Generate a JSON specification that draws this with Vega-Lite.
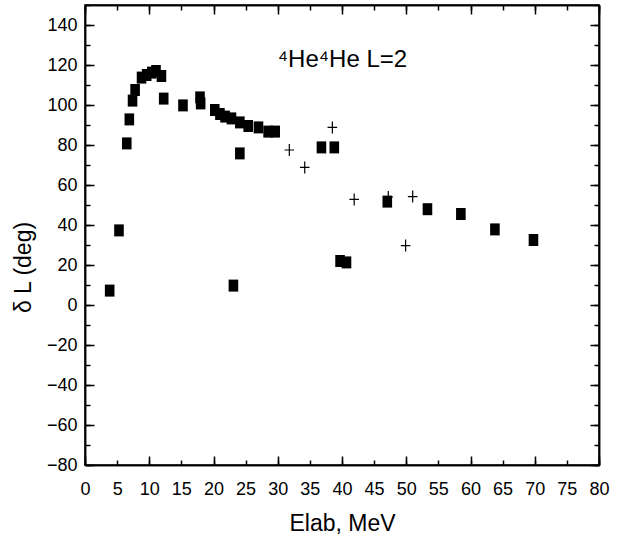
{
  "$schema": "https://vega.github.io/schema/vega-lite/v6.json",
  "width": 514,
  "height": 460,
  "autosize": {"type": "none"},
  "padding": {"left": 85, "top": 5, "right": 24, "bottom": 87},
  "background": "white",
  "config": {
    "view": {"stroke": "black", "strokeWidth": 1.5},
    "font": "Liberation Sans",
    "axis": {
      "grid": false,
      "domainColor": "black",
      "domainWidth": 1.5,
      "tickColor": "black",
      "tickWidth": 1.5,
      "labelColor": "black",
      "labelFont": "Liberation Sans",
      "labelFontSize": 18,
      "labelFlush": false,
      "labelOverlap": false,
      "titleFont": "Liberation Sans",
      "titleFontSize": 23,
      "titleFontWeight": "normal",
      "titleColor": "black"
    }
  },
  "datasets": {
    "pts": [
      {"E": 3.84, "d": 7.2, "kind": "square"},
      {"E": 5.29, "d": 37.3, "kind": "square"},
      {"E": 6.5, "d": 80.8, "kind": "square"},
      {"E": 6.9, "d": 92.8, "kind": "square"},
      {"E": 7.4, "d": 102.2, "kind": "square"},
      {"E": 7.8, "d": 107.5, "kind": "square"},
      {"E": 8.8, "d": 113.7, "kind": "square"},
      {"E": 9.6, "d": 115.0, "kind": "square"},
      {"E": 10.4, "d": 116.2, "kind": "square"},
      {"E": 11.05, "d": 117.0, "kind": "square"},
      {"E": 11.9, "d": 114.5, "kind": "square"},
      {"E": 12.25, "d": 103.2, "kind": "square"},
      {"E": 15.25, "d": 99.8, "kind": "square"},
      {"E": 17.9, "d": 103.8, "kind": "square"},
      {"E": 18.0, "d": 100.8, "kind": "square"},
      {"E": 20.2, "d": 97.5, "kind": "square"},
      {"E": 21.0, "d": 95.5, "kind": "square"},
      {"E": 21.8, "d": 94.2, "kind": "square"},
      {"E": 22.8, "d": 93.3, "kind": "square"},
      {"E": 23.1, "d": 9.7, "kind": "square"},
      {"E": 24.1, "d": 91.3, "kind": "square"},
      {"E": 24.1, "d": 75.8, "kind": "square"},
      {"E": 25.4, "d": 89.5, "kind": "square"},
      {"E": 27.0, "d": 88.8, "kind": "square"},
      {"E": 28.5, "d": 86.7, "kind": "square"},
      {"E": 29.6, "d": 86.7, "kind": "square"},
      {"E": 36.8, "d": 78.8, "kind": "square"},
      {"E": 38.8, "d": 78.8, "kind": "square"},
      {"E": 39.7, "d": 22.0, "kind": "square"},
      {"E": 40.7, "d": 21.3, "kind": "square"},
      {"E": 47.05, "d": 51.7, "kind": "square"},
      {"E": 53.3, "d": 47.9, "kind": "square"},
      {"E": 58.5, "d": 45.5, "kind": "square"},
      {"E": 63.8, "d": 37.8, "kind": "square"},
      {"E": 69.8, "d": 32.5, "kind": "square"},
      {"E": 31.8, "d": 77.5, "kind": "cross"},
      {"E": 34.2, "d": 68.8, "kind": "cross"},
      {"E": 38.5, "d": 88.8, "kind": "cross"},
      {"E": 41.9, "d": 52.8, "kind": "cross"},
      {"E": 47.2, "d": 54.0, "kind": "cross"},
      {"E": 49.9, "d": 29.7, "kind": "cross"},
      {"E": 51.0, "d": 54.2, "kind": "cross"}
    ]
  },
  "layer": [
    {
      "data": {"name": "pts"},
      "transform": [{"filter": "datum.kind === 'square'"}],
      "mark": {"type": "point", "shape": "M-0.8,-1H0.8V1H-0.8Z", "filled": true, "color": "black", "opacity": 1, "size": 144, "strokeWidth": 0},
      "encoding": {
        "x": {"field": "E", "type": "quantitative", "scale": {"domain": [0, 80], "nice": false, "zero": false},
          "axis": {"orient": "bottom", "values": [0,5,10,15,20,25,30,35,40,45,50,55,60,65,70,75,80],
            "tickSize": -5, "labelPadding": 20, "title": "Elab, MeV", "titlePadding": 14}},
        "y": {"field": "d", "type": "quantitative", "scale": {"domain": [-80, 150], "nice": false, "zero": false},
          "axis": {"orient": "left", "values": [-80,-70,-60,-50,-40,-30,-20,-10,0,10,20,30,40,50,60,70,80,90,100,110,120,130,140,150],
            "tickSize": -5,
            "labelExpr": "(datum.value % 20 === 0 && datum.value <= 140) ? datum.label : ''",
            "labelPadding": 13, "title": "δ L (deg)", "titleX": -62, "titleY": 262, "titleAngle": -90, "titleAlign": "center", "titleBaseline": "middle"}}
      }
    },
    {
      "data": {"name": "pts"},
      "transform": [{"filter": "datum.kind === 'cross'"}],
      "mark": {"type": "point", "shape": "M-0.8,0H0.8M0,-1V1", "filled": false, "color": "black", "opacity": 1, "size": 144, "strokeWidth": 1.2},
      "encoding": {
        "x": {"field": "E", "type": "quantitative",
          "axis": {"orient": "bottom", "values": [0,10,20,30,40,50,60,70,80], "tickSize": -9, "labels": false, "title": null}},
        "y": {"field": "d", "type": "quantitative",
          "axis": {"orient": "left", "values": [-80,-60,-40,-20,0,20,40,60,80,100,120,140], "tickSize": -9, "labels": false, "title": null}}
      }
    },
    {
      "data": {"name": "pts"},
      "transform": [{"filter": "datum.kind === 'cross'"}],
      "mark": {"type": "point", "opacity": 0},
      "encoding": {
        "x": {"field": "E", "type": "quantitative",
          "axis": {"orient": "top", "values": [0,5,10,15,20,25,30,35,40,45,50,55,60,65,70,75,80], "tickSize": -5, "labels": false, "title": null}},
        "y": {"field": "d", "type": "quantitative",
          "axis": {"orient": "right", "values": [-80,-70,-60,-50,-40,-30,-20,-10,0,10,20,30,40,50,60,70,80,90,100,110,120,130,140,150], "tickSize": -5, "labels": false, "title": null}}
      }
    },
    {
      "data": {"name": "pts"},
      "transform": [{"filter": "datum.kind === 'cross'"}],
      "mark": {"type": "point", "opacity": 0},
      "encoding": {
        "x": {"field": "E", "type": "quantitative",
          "axis": {"orient": "top", "values": [0,10,20,30,40,50,60,70,80], "tickSize": -9, "labels": false, "title": null}},
        "y": {"field": "d", "type": "quantitative",
          "axis": {"orient": "right", "values": [-80,-60,-40,-20,0,20,40,60,80,100,120,140], "tickSize": -9, "labels": false, "title": null}}
      }
    },
    {
      "data": {"values": [{"label": "⁴He⁴He L=2"}]},
      "mark": {"type": "text", "align": "left", "baseline": "alphabetic", "font": "Liberation Sans", "fontSize": 24, "color": "black"},
      "encoding": {
        "text": {"field": "label", "type": "nominal"},
        "x": {"datum": 30, "type": "quantitative", "axis": null},
        "y": {"datum": 119, "type": "quantitative", "axis": null}
      }
    }
  ],
  "resolve": {"axis": {"x": "independent", "y": "independent"}}
}
